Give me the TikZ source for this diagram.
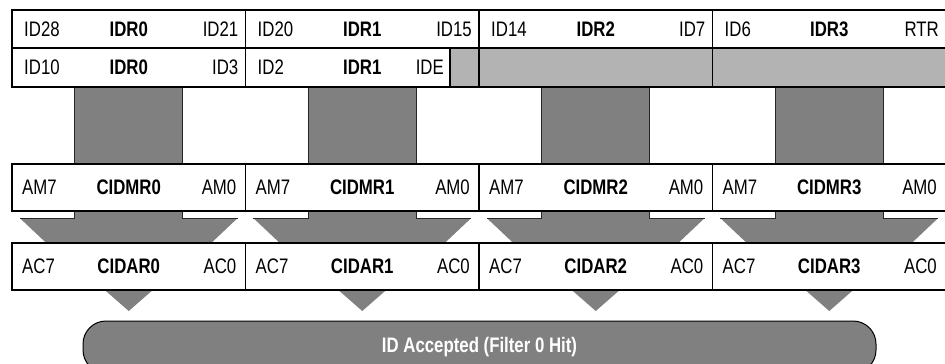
\documentclass[tikz,border=0pt]{standalone}
\usepackage{fontspec}
\setmainfont{Liberation Sans}[FakeStretch=0.8]
\usetikzlibrary{positioning,calc,backgrounds}
\definecolor{filtgray}{RGB}{128,128,128}
\definecolor{maskgray}{RGB}{179,179,179}
\newcommand\regfont{\fontsize{21}{25}\selectfont}
\tikzset{
  reg/.style={rectangle, draw=black, line width=1.5pt, minimum width=233.5pt,
    inner sep=0pt, outer sep=0pt, anchor=north west},
  bitl/.style={anchor=west, inner sep=0pt, font=\regfont},
  bitr/.style={anchor=east, inner sep=0pt, font=\regfont},
  regname/.style={inner sep=0pt, font=\regfont\bfseries},
  pass/.style={fill=filtgray, draw=black!85, line width=0.8pt},
  shoulder/.style={draw=black!85, line width=0.8pt},
  hitpill/.style={rectangle, rounded corners=23pt, fill=filtgray, draw=black, line width=1pt,
    minimum width=793pt, minimum height=52pt, inner sep=0pt, text=white, font=\regfont\bfseries},
}

\begin{document}
\begin{tikzpicture}[x=1pt, y=-1pt]
\useasboundingbox (0,0) rectangle (945,364);

% identifier registers, first row
\foreach \i/\hi/\name/\lo in {0/ID28/IDR0/ID21, 1/ID20/IDR1/ID15, 2/ID14/IDR2/ID7, 3/ID6/IDR3/RTR} {
  \node[reg, minimum height=38pt] (idra\i) at (12+233.5*\i,10) {};
  \node[bitl] at ([xshift=12pt]idra\i.west) {\hi};
  \node[regname] at (idra\i.center) {\name};
  \node[bitr] at ([xshift=-7pt]idra\i.east) {\lo};
}

% identifier registers, second row
\node[reg, minimum height=39pt] (idrb0) at (12,48) {};
\node[bitl] at ([xshift=12pt]idrb0.west) {ID10};
\node[regname] at (idrb0.center) {IDR0};
\node[bitr] at ([xshift=-7pt]idrb0.east) {ID3};
\node[reg, minimum height=39pt] (idrb1) at (245.5,48) {};
\node[bitl] at ([xshift=12pt]idrb1.west) {ID2};
\node[regname] at (idrb1.center) {IDR1};
\node[reg, fill=maskgray, minimum width=29pt, minimum height=39pt, anchor=north east] (idegap) at (idrb1.north east) {};
\node[bitr] at ([xshift=-6pt]idegap.west) {IDE};
\node[reg, fill=maskgray, minimum height=39pt] (idrb2) at (479,48) {};
\node[reg, fill=maskgray, minimum height=39pt] (idrb3) at (712.5,48) {};

% mask and acceptance registers
\foreach \i in {0,...,3} {
  \node[reg, minimum height=47pt] (cidmr\i) at (12+233.5*\i,164) {};
  \node[bitl] at ([xshift=10pt]cidmr\i.west) {AM7};
  \node[regname] at (cidmr\i.center) {CIDMR\i};
  \node[bitr] at ([xshift=-9pt]cidmr\i.east) {AM0};
  \node[reg, minimum height=47pt] (cidar\i) at (12+233.5*\i,243) {};
  \node[bitl] at ([xshift=10pt]cidar\i.west) {AC7};
  \node[regname] at (cidar\i.center) {CIDAR\i};
  \node[bitr] at ([xshift=-9pt]cidar\i.east) {AC0};
}

\begin{scope}[on background layer]
\foreach \i in {0,...,3} {
  \draw[pass] ($(idrb\i.south)+(-54,0)$) rectangle ($(cidmr\i.north)+(54,0)$);
  \fill[filtgray] ($(cidmr\i.south)+(-54,0)$) -- ++(0,7) -- ++(-55,0)
    -- ($(cidar\i.north)+(-82.5,0)$) -- ($(cidar\i.north)+(82.5,0)$)
    -- ++(26.5,-25) -- ++(-55,0) -- ++(0,-7) -- cycle;
  \draw[shoulder] ($(cidmr\i.south)+(-54,0)$) -- ++(0,7) -- ++(-55,0);
  \draw[shoulder] ($(cidmr\i.south)+(54,0)$) -- ++(0,7) -- ++(55,0);
  \fill[filtgray] ($(cidar\i.south)+(-24,0)$) -- ($(cidar\i.south)+(24,0)$)
    -- ($(cidar\i.south)+(0,21)$) -- cycle;
}
\end{scope}

\node[hitpill] (hit) at (479.5,347) {ID Accepted (Filter 0 Hit)};

\end{tikzpicture}
\end{document}
